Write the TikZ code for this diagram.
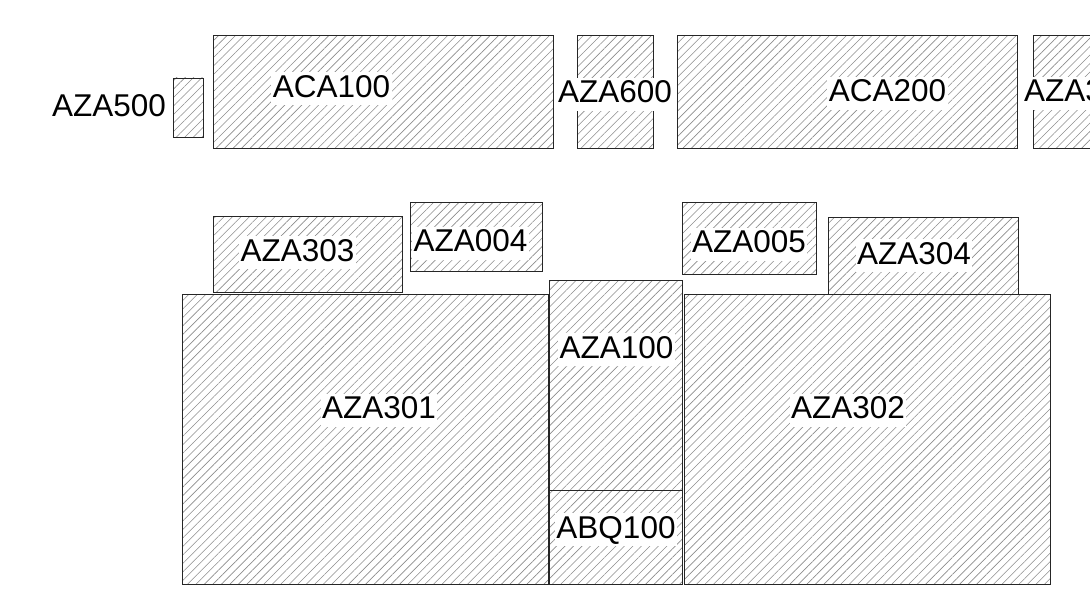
\documentclass[tikz,border=0pt]{standalone}
\usepackage{fontspec}
\setmainfont{Liberation Sans}
\usetikzlibrary{patterns.meta}
\tikzset{
  hatchbox/.style={draw=black!85, line width=0.8pt,
    pattern={Lines[angle=45,distance=6pt,line width=0.6pt]}, pattern color=black!45},
  lbl/.style={fill=white, inner xsep=1.5pt, inner ysep=2pt, text height=22.6pt, text depth=6pt,
    anchor=base, font=\fontsize{31.5}{36}\selectfont}
}
\begin{document}
\begin{tikzpicture}[x=1pt,y=-1pt]
\useasboundingbox (0,0) rectangle (1090,602);
\clip (0,0) rectangle (1090,602);
% top row
\path[hatchbox] (173,78) rectangle (203,137.5);
\path[hatchbox] (213,35.5) rectangle (553,148);
\path[hatchbox] (577.5,35.5) rectangle (653,148);
\path[hatchbox] (677,35.5) rectangle (1017,148);
\path[hatchbox] (1033,35.5) rectangle (1110,148);
% small boxes
\path[hatchbox] (213,216.5) rectangle (402.5,292.5);
\path[hatchbox] (410,202.7) rectangle (542.7,271.7);
\path[hatchbox] (682.5,202.8) rectangle (816,274.5);
\path[hatchbox] (828.6,217) rectangle (1018,294.5);
% large boxes
\path[hatchbox] (182,294.5) rectangle (548.5,584);
\path[hatchbox] (549.5,280) rectangle (682,490);
\path[hatchbox] (549.5,490) rectangle (682,584);
\path[hatchbox] (684,294.5) rectangle (1050,584);
% labels
\node[lbl] (aza500) at (109,116.5) {AZA500};
\node[lbl] (aca100) at (331.5,97) {ACA100};
\node[lbl] (aza600) at (615,102.5) {AZA600};
\node[lbl] (aca200) at (887.5,102) {ACA200};
\node[lbl, anchor=base west] (aza3) at (1022.5,102) {AZA3};
\node[lbl] (aza303) at (297.5,261) {AZA303};
\node[lbl] (aza004) at (470.5,251.7) {AZA004};
\node[lbl] (aza005) at (749,252.8) {AZA005};
\node[lbl] (aza304) at (914,264) {AZA304};
\node[lbl] (aza100) at (616.5,358) {AZA100};
\node[lbl] (abq100) at (616,538) {ABQ100};
\node[lbl] (aza301) at (379,418.5) {AZA301};
\node[lbl] (aza302) at (848,418.5) {AZA302};
\end{tikzpicture}
\end{document}
